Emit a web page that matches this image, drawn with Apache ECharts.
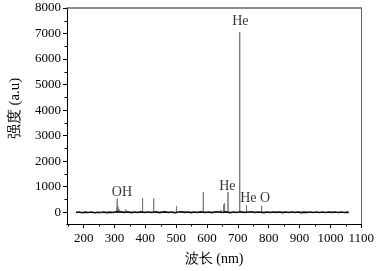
<!DOCTYPE html>
<html lang="zh" style="height: 100%">
<head>
<meta charset="utf-8">
<title>Emission spectrum</title>
</head>
<body style="height: 100%; margin: 0; background: #fff">
<div id="container" style="width: 377px; height: 271px"></div>

<script type="text/javascript" src="https://cdn.jsdelivr.net/npm/echarts@6/dist/echarts.min.js"></script>

<script type="text/javascript">
var dom = document.getElementById('container');
var myChart = echarts.init(dom);

// baseline readings
var baseNm = [175, 185, 195, 205, 215, 225, 235, 245, 255, 265, 275, 285, 295, 305,
  320, 330, 345, 355, 365, 375, 385, 398, 410, 420, 435, 445, 455, 465, 475, 485,
  495, 508, 518, 528, 538, 548, 558, 568, 578, 595, 605, 615, 625, 635, 648, 662,
  675, 685, 695, 712, 720, 735, 745, 755, 765, 785, 795, 805, 815, 825, 835, 845,
  855, 865, 875, 885, 895, 905, 915, 925, 935, 945, 955, 965, 975, 985, 995, 1005,
  1015, 1025, 1035, 1045, 1055, 1060];
var baseVal = [-10, 8, -18, 5, -12, 10, -20, 3, -8, 12, -15, 5, -10, 15,
  20, -5, 12, -15, 8, -10, 15, -12, 10, -8, 18, -15, 5, 15, -10, 12,
  -18, 8, 20, -5, 12, -15, 10, -8, 15, -12, 10, -15, 8, 22, -10, 15,
  -18, 10, -8, 18, -12, 8, 20, -10, 12, -15, 8, -12, 10, -5, 12, -15,
  8, -10, 12, -8, 10, -15, 5, -10, 12, -8, 10, -12, 8, -10, 12, -5,
  10, -12, 8, -10, 5, -8];

// emission lines
var peakNm = [307, 309, 312, 315, 337, 357, 380, 391, 406, 427, 447, 471, 492, 501,
  588, 615, 645, 654, 657, 668, 706, 728, 777, 845, 926];
var peakVal = [150, 540, 220, 120, 110, 60, 70, 560, 50, 540, 60, 70, 60, 250,
  780, 50, 90, 300, 350, 790, 7050, 280, 250, 50, 40];

// peak annotations
var tagText = ['OH', 'He', 'He', 'He', 'O'];
var tagNm = [324, 708, 666, 734, 788];
var tagVal = [765, 7460, 1030, 540, 540];

var xTicks = [200, 300, 400, 500, 600, 700, 800, 900, 1000, 1100];
var xMinor = [150, 250, 350, 450, 550, 650, 750, 850, 950, 1050];
var yTicks = [0, 1000, 2000, 3000, 4000, 5000, 6000, 7000, 8000];
var yMinor = [500, 1500, 2500, 3500, 4500, 5500, 6500, 7500];

var baseline = baseNm.map(function (x, i) { return [x, baseVal[i]]; });
var lines = [];
peakNm.forEach(function (x, i) {
  lines.push([x - 0.4, 0], [x, peakVal[i]], [x + 0.4, 0]);
});

var tags = tagText.map(function (t, i) {
  return { name: t, value: [tagNm[i], tagVal[i]] };
});

var font = 'Liberation Serif';
var plain = function (v) { return String(v); };

option = {
  animation: false,
  textStyle: { fontFamily: font },
  grid: { left: 63, right: 14, top: 8, bottom: 42 },
  xAxis: [
    {
      type: 'value', position: 'bottom', min: 146, max: 1100,
      name: '波长 (nm)', nameLocation: 'middle', nameGap: 28,
      nameTextStyle: { fontFamily: font, fontSize: 14, color: '#000' },
      splitLine: { show: false },
      axisLine: { onZero: false, lineStyle: { color: '#000', width: 1 } },
      axisTick: { length: 4, customValues: xTicks, lineStyle: { color: '#000' } },
      axisLabel: { margin: 8, customValues: xTicks, formatter: plain, fontFamily: font, fontSize: 13, color: '#000' }
    },
    {
      type: 'value', position: 'bottom', min: 146, max: 1100,
      splitLine: { show: false },
      axisLine: { onZero: false, lineStyle: { color: '#000' } },
      axisTick: { length: 2.5, customValues: xMinor, lineStyle: { color: '#000' } },
      axisLabel: { show: false }
    },
    {
      type: 'value', position: 'top', min: 146, max: 1100,
      splitLine: { show: false },
      axisLine: { onZero: false, lineStyle: { color: '#666', width: 1.5 } },
      axisTick: { show: false }, axisLabel: { show: false }
    }
  ],
  yAxis: [
    {
      type: 'value', position: 'left', min: -460, max: 8000,
      name: '    强度 (a.u)', nameLocation: 'middle', nameGap: 44,
      nameTextStyle: { fontFamily: font, fontSize: 15, color: '#000' },
      splitLine: { show: false },
      axisLine: { show: true, onZero: false, lineStyle: { color: '#000' } },
      axisTick: { length: 4, customValues: yTicks, lineStyle: { color: '#000' } },
      axisLabel: { margin: 6, customValues: yTicks, formatter: plain, fontFamily: font, fontSize: 13, color: '#000' }
    },
    {
      type: 'value', position: 'left', min: -460, max: 8000,
      splitLine: { show: false },
      axisLine: { show: false },
      axisTick: { length: 2.5, customValues: yMinor, lineStyle: { color: '#000' } },
      axisLabel: { show: false }
    },
    {
      type: 'value', position: 'right', min: -460, max: 8000,
      splitLine: { show: false },
      axisLine: { show: true, onZero: false, lineStyle: { color: '#666', width: 1 } },
      axisTick: { show: false }, axisLabel: { show: false }
    }
  ],
  series: [
    {
      type: 'line',
      data: lines,
      showSymbol: false,
      lineStyle: { color: '#777', width: 1 }
    },
    {
      type: 'line',
      data: baseline,
      showSymbol: false,
      lineStyle: { color: '#111', width: 1.6 }
    },
    {
      type: 'scatter',
      data: tags,
      symbolSize: 0,
      label: {
        show: true, position: 'inside', formatter: '{b}',
        fontFamily: font, fontSize: 14, color: '#000',
        textBorderWidth: 0
      }
    }
  ]
};

myChart.setOption(option);
window.addEventListener('resize', myChart.resize);
</script>
</body>
</html>
